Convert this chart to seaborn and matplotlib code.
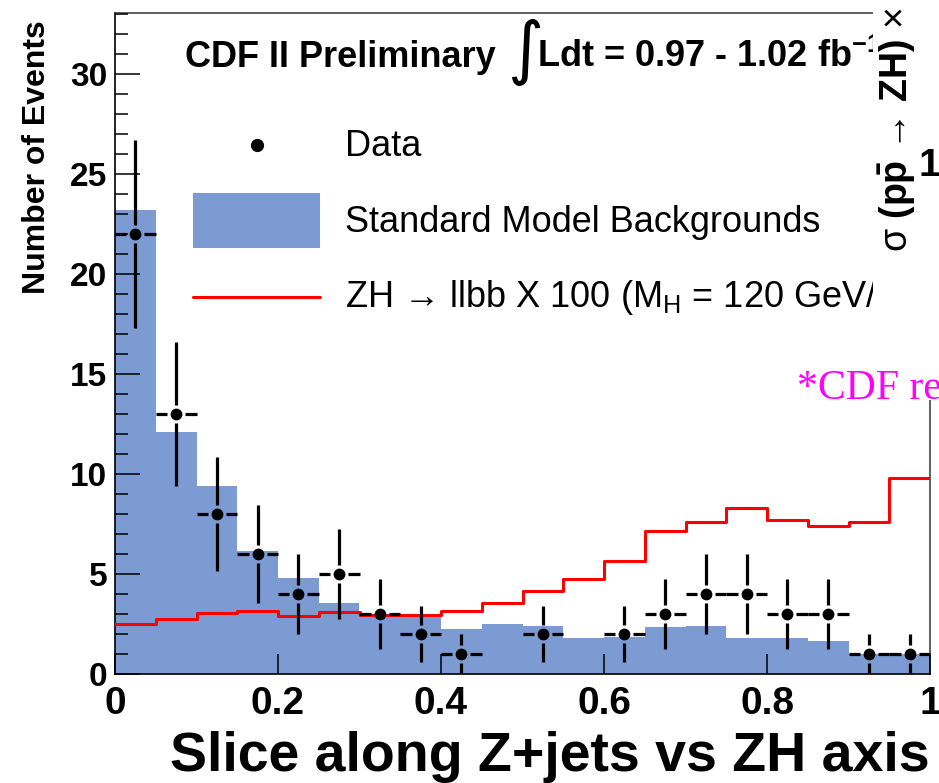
import numpy as np
import pandas as pd
import matplotlib
matplotlib.use("Agg")
import matplotlib.pyplot as plt
import seaborn as sns
from matplotlib.lines import Line2D
from matplotlib.patches import Patch, Rectangle
from matplotlib.legend_handler import HandlerLine2D

# ---------------- data ----------------
bin_edges = [0.0, 0.05, 0.10, 0.15, 0.20, 0.25, 0.30, 0.35, 0.40, 0.45, 0.50,
             0.55, 0.60, 0.65, 0.70, 0.75, 0.80, 0.85, 0.90, 0.95, 1.0]
background = [23.2, 12.1, 9.4, 6.15, 4.78, 3.53, 2.9, 2.9, 2.27, 2.48,
              2.4, 1.82, 1.85, 2.37, 2.42, 1.82, 1.82, 1.65, 0.98, 0.98]
signal_x100 = [2.5, 2.75, 3.07, 3.15, 2.9, 3.12, 2.95, 2.95, 3.17, 3.57,
               4.15, 4.73, 5.67, 7.15, 7.58, 8.28, 7.7, 7.4, 7.62, 9.78]
data_counts = [22, 13, 8, 6, 4, 5, 3, 2, 1, 0, 2, 0, 2, 3, 4, 4, 3, 3, 1, 1]
x_ticks = [0, 0.2, 0.4, 0.6, 0.8, 1.0]
x_tick_labels = ["0", "0.2", "0.4", "0.6", "0.8", "1"]
y_ticks = [0, 5, 10, 15, 20, 25, 30]
legend_labels = ["Data", "Standard Model Backgrounds",
                 "ZH \u2192 llbb X 100 (M$_{\\mathrm{H}}$ = 120 GeV/c$^{2}$)"]

BLUE = "#7b9bd2"

# ---------------- style ----------------
sns.set_theme(style="ticks")
plt.rcParams["font.family"] = ["Liberation Sans", "DejaVu Sans"]
plt.rcParams["mathtext.fontset"] = "custom"
plt.rcParams["mathtext.rm"] = "Liberation Sans"
plt.rcParams["mathtext.it"] = "Liberation Sans:italic"
plt.rcParams["mathtext.bf"] = "Liberation Sans:bold"
plt.rcParams["mathtext.sf"] = "Liberation Sans"
for k in ["text.color", "axes.labelcolor", "xtick.color", "ytick.color",
          "xtick.labelcolor", "ytick.labelcolor"]:
    plt.rcParams[k] = "black"


class CenteredLineHandler(HandlerLine2D):
    """Line/marker legend handle centred like a patch handle."""
    def create_artists(self, legend, orig_handle, xdescent, ydescent,
                       width, height, fontsize, trans):
        arts = super().create_artists(legend, orig_handle, xdescent, ydescent,
                                      width, height, fontsize, trans)
        for a in arts:
            a.set_ydata(np.asarray(a.get_ydata(), dtype=float) - ydescent / 2)
        return arts


edges = np.array(bin_edges)
centers = (edges[:-1] + edges[1:]) / 2
half_w = np.diff(edges) / 2
df = pd.DataFrame({"center": centers, "bkg": background,
                   "sig": signal_x100, "data": data_counts})

fig = plt.figure(figsize=(9.39, 7.83), dpi=100)
ax = fig.add_axes([115 / 939, 109 / 783, 815 / 939, 661 / 783])

# background histogram
sns.histplot(data=df, x="center", weights="bkg", bins=list(bin_edges),
             element="step", fill=True, color=BLUE, alpha=1, linewidth=0, ax=ax)

# signal step line
sns.lineplot(x=edges, y=np.append(df["sig"].values, df["sig"].values[-1]),
             drawstyle="steps-post", color="red", linewidth=2.2, ax=ax,
             legend=False, zorder=3)

# data points with error bars (gap around marker)
mask = df["data"].values > 0
d = df[mask]
xv = d["center"].values
yv = d["data"].values.astype(float)
err = np.sqrt(yv)
hw = half_w[mask]
gy, gx = 0.45, 0.011
ax.vlines(xv, yv - err, yv - gy, color="black", lw=2.3, zorder=4)
ax.vlines(xv, yv + gy, yv + err, color="black", lw=2.3, zorder=4)
ax.hlines(yv, xv - hw, xv - gx, color="black", lw=2.3, zorder=4)
ax.hlines(yv, xv + gx, xv + hw, color="black", lw=2.3, zorder=4)
sns.scatterplot(x=xv, y=yv, color="black", s=72, marker="o", linewidth=0,
                ax=ax, zorder=5, legend=False)

# axes
ax.set_xlim(0, 1)
ax.set_ylim(0, 33.05)
ax.set_axisbelow(False)
ax.set_xticks(x_ticks)
ax.set_xticklabels(x_tick_labels, fontweight="bold")
ax.set_yticks(y_ticks)
ax.set_yticklabels([str(v) for v in y_ticks], fontweight="bold")
ax.set_yticks(np.arange(0, 34), minor=True)
ax.tick_params(axis="y", which="major", direction="in", length=18, width=1.1,
               labelsize=24, pad=5.5)
ax.tick_params(axis="y", which="minor", direction="in", length=9.4, width=1.1)
ax.tick_params(axis="x", which="major", direction="in", length=14.4, width=1.1,
               labelsize=28, pad=9)
ax.tick_params(axis="x", which="minor", bottom=False)
for s in ["left", "bottom"]:
    ax.spines[s].set_color("black")
    ax.spines[s].set_linewidth(1.2)
for s in ["top", "right"]:
    ax.spines[s].set_color("#444444")
    ax.spines[s].set_linewidth(1.2)

ax.set_xlabel("Slice along Z+jets vs ZH axis", fontsize=40, fontweight="bold",
              loc="right")
ax.xaxis.label.set_va("baseline")
ax.xaxis.set_label_coords(1.0, (674 - 771) / 661)
ax.set_ylabel("Number of Events", fontsize=23, fontweight="bold", loc="top")
ax.yaxis.set_label_coords(-0.077, 0.989)

# legend
h_data = Line2D([], [], marker="o", color="black", linestyle="none", markersize=8.5)
h_bkg = Patch(facecolor=BLUE, edgecolor="none")
h_sig = Line2D([], [], color="red", lw=2.2)
ax.legend([h_data, h_bkg, h_sig], legend_labels, loc="upper left",
          bbox_to_anchor=(0.0957, 0.842), frameon=False, fontsize=26,
          handlelength=3.52, handleheight=1.967, handletextpad=0.69,
          labelspacing=0.58, borderpad=0, borderaxespad=0,
          handler_map={Line2D: CenteredLineHandler()})

# title texts
ax.text((185 - 115) / 815, (674 - 66.7) / 661, "CDF II Preliminary",
        transform=ax.transAxes, fontsize=26, fontweight="bold", va="baseline")
ax.text((525 - 115) / 815, (674 - 52) / 661, "\u222b", transform=ax.transAxes,
        fontsize=50, family="DejaVu Sans", ha="center", va="center")
ax.text((537 - 115) / 815, (674 - 66.7) / 661,
        "Ldt = 0.97 - 1.02 fb$^{\\mathbf{-1}}$",
        transform=ax.transAxes, fontsize=26, fontweight="bold", va="baseline")

# overlay fragment of neighbouring slide content
fig.add_artist(Rectangle((873 / 939, (783 - 400) / 783), 66 / 939, 400 / 783,
                         transform=fig.transFigure, facecolor="white",
                         edgecolor="none", zorder=10))
fig.text(897 / 939, (783 - 252) / 783,
         "\u03c3 $\\mathbf{(p\\bar{p}}$ \u2192 $\\mathbf{ZH)}$ \u00d7 $\\mathbf{BR}$",
         rotation=90, ha="center", va="bottom", fontsize=27, zorder=11)
fig.text(929 / 939, (783 - 166) / 783, "1", ha="center", va="center",
         fontsize=28, fontweight="bold", zorder=11)
fig.text(797 / 939, (783 - 399) / 783, "*CDF reported", color="#ff00ff",
         fontsize=30, family="Liberation Serif", va="baseline", zorder=11)

fig.savefig("out.png", dpi=100)
